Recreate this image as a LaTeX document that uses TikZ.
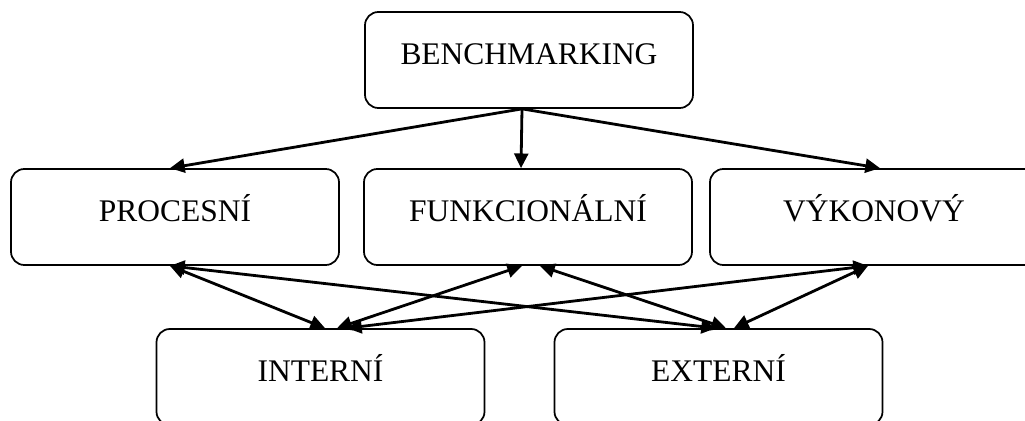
\documentclass[tikz,border=0pt]{standalone}
\usepackage{fontspec}
\setmainfont{Liberation Serif}
\usetikzlibrary{arrows.meta}
\begin{document}
\begin{tikzpicture}[x=0.75pt,y=-0.75pt,
  box/.style={draw=black, line width=1.3pt, rounded corners=10pt, fill=white,
    minimum width=246pt, minimum height=72pt, inner sep=0pt,
    font=\fontsize{23.6pt}{28pt}\selectfont, text height=0.662em, text depth=0pt},
  link/.style={line width=2.1pt, -{Triangle[length=11pt,width=10.5pt]}},
  both/.style={line width=2.1pt, {Triangle[length=11pt,width=10.5pt]}-{Triangle[length=11pt,width=10.5pt]}}]
\useasboundingbox (0,0) rectangle (1025,421);
\clip (0,0) rectangle (1025,421);
\node[box] (bench) at (529,60) {BENCHMARKING};
\node[box] (proc) at (175,217) {PROCESNÍ};
\node[box] (funk) at (528,217) {FUNKCIONÁLNÍ};
\node[box] (vyk) at (874,217) {VÝKONOVÝ};
\node[box] (int) at (320.5,377) {INTERNÍ};
\node[box] (ext) at (718.5,377) {EXTERNÍ};
% top arrows
\draw[link] ([xshift=-5.25pt]bench.south) -- ([xshift=-3.75pt]proc.north);
\draw[link] ([xshift=-5.25pt]bench.south) -- ([xshift=-5.25pt]funk.north);
\draw[link] ([xshift=-5.25pt]bench.south) -- ([xshift=4.5pt]vyk.north);
% bottom double arrows
\draw[both] ([xshift=-3.75pt]proc.south) -- ([xshift=3.4pt]int.north);
\draw[both] ([xshift=-3.75pt]proc.south) -- ([xshift=-1.9pt]ext.north);
\draw[both] ([xshift=-4.5pt]funk.south) -- ([xshift=12.4pt]int.north);
\draw[both] ([xshift=9pt]funk.south) -- ([xshift=5.6pt]ext.north);
\draw[both] ([xshift=-4.5pt]vyk.south) -- ([xshift=19.9pt]int.north);
\draw[both] ([xshift=-4.5pt]vyk.south) -- ([xshift=11.6pt]ext.north);
\end{tikzpicture}
\end{document}
